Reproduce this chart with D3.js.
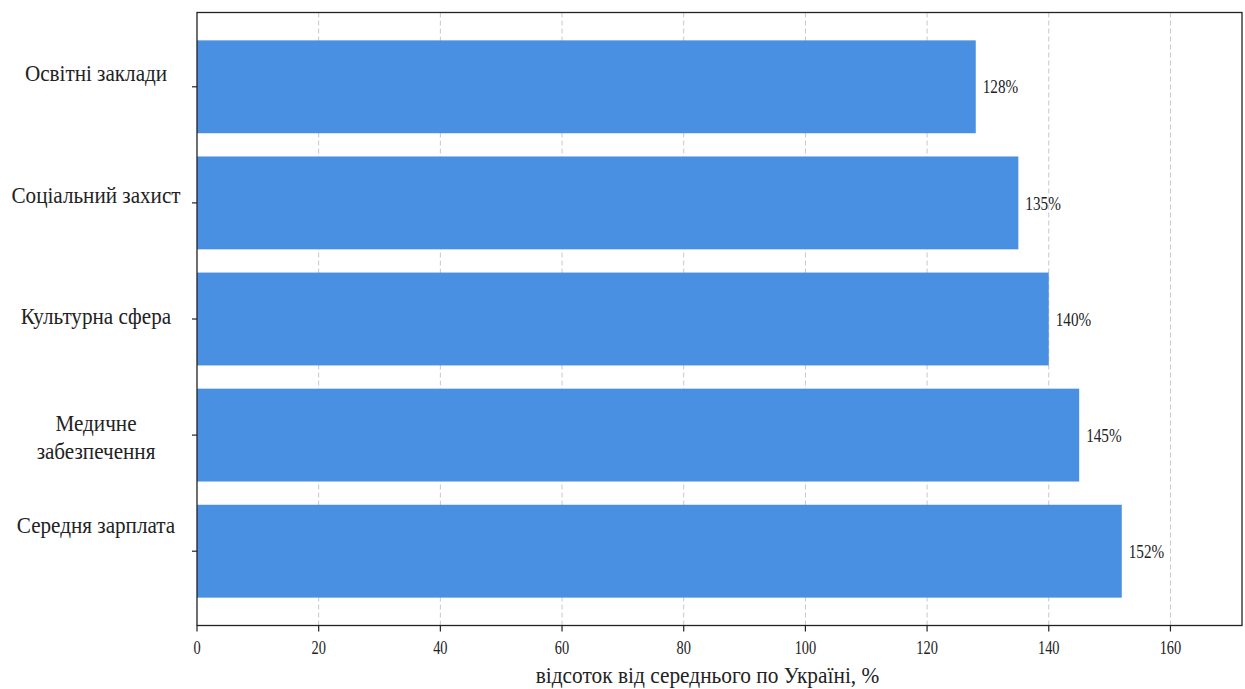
<!DOCTYPE html>
<html><head><meta charset="utf-8">
<script src="https://cdn.jsdelivr.net/npm/d3@7"></script>
<style>body{margin:0;background:#fff}svg{display:block}text{font-family:"Liberation Serif","Times New Roman",serif;fill:#222}</style>
</head><body><svg id="c" width="1245" height="689"></svg>
<script>
const categories = ["Освітні заклади","Соціальний захист","Культурна сфера","Медичне\nзабезпечення","Середня зарплата"];
const values = [128,135,140,145,152];
const xTicks = [0,20,40,60,80,100,120,140,160];
const xLabel = "відсоток від середнього по Україні, %";
const labelShift = [-14,-8,-3,2,-26];

const svg = d3.select("#c");
const L=197, R=1242, T=12.5, B=625.5, SX=0.8;
const x = d3.scaleLinear().domain([0, d3.max(values)*1.13]).range([L,R]);
const y = d3.scaleBand().domain(categories).range([T,B]).paddingInner(0.2).paddingOuter(0.24);

// grid
svg.append("g").selectAll("line").data(xTicks.filter(d=>d>0)).join("line")
  .attr("x1",d=>x(d)).attr("x2",d=>x(d)).attr("y1",T).attr("y2",B)
  .attr("stroke","#c8c8c8").attr("stroke-width",1).attr("stroke-dasharray","5,3");

// bars
svg.append("g").selectAll("rect").data(values).join("rect")
  .attr("x",x(0)).attr("y",(d,i)=>y(categories[i]))
  .attr("width",d=>x(d)-x(0)).attr("height",y.bandwidth())
  .attr("fill","#4a90e2");

// value labels
svg.append("g").selectAll("text").data(values).join("text")
  .attr("transform",(d,i)=>`translate(${x(d)+7},${y(categories[i])+y.bandwidth()/2}) scale(${SX},1)`)
  .attr("dy","0.35em").attr("font-size",19).text(d=>d+"%");

// frame
svg.append("rect").attr("x",L).attr("y",T).attr("width",R-L).attr("height",B-T)
  .attr("fill","none").attr("stroke","#222").attr("stroke-width",1.3);

// x axis ticks
const xa = svg.append("g");
xTicks.forEach(t=>{
  xa.append("line").attr("x1",x(t)).attr("x2",x(t)).attr("y1",B).attr("y2",B+6).attr("stroke","#222").attr("stroke-width",1.2);
  xa.append("text").attr("transform",`translate(${x(t)},${B+22}) scale(${SX},1)`)
    .attr("dy","0.35em").attr("text-anchor","middle").attr("font-size",18).text(t);
});
svg.append("text").attr("transform",`translate(${(L+R)/2-12},${675}) scale(0.93,1)`)
  .attr("dy","0.35em").attr("text-anchor","middle").attr("font-size",23).text(xLabel);

// y ticks and labels
const ya = svg.append("g");
categories.forEach((c,i)=>{
  const cy = y(c)+y.bandwidth()/2;
  ya.append("line").attr("x1",L-5).attr("x2",L).attr("y1",cy).attr("y2",cy).attr("stroke","#222").attr("stroke-width",1.2);
  const lines = c.split("\n");
  const t = ya.append("text").attr("transform",`translate(96,${cy+labelShift[i]}) scale(0.9,1)`)
    .attr("text-anchor","middle").attr("font-size",23.5);
  lines.forEach((ln,j)=>{
    t.append("tspan").attr("x",0).attr("dy", j===0 ? ((0.35 - (lines.length-1)*0.6)+"em") : "1.2em").text(ln);
  });
});
</script></body></html>
